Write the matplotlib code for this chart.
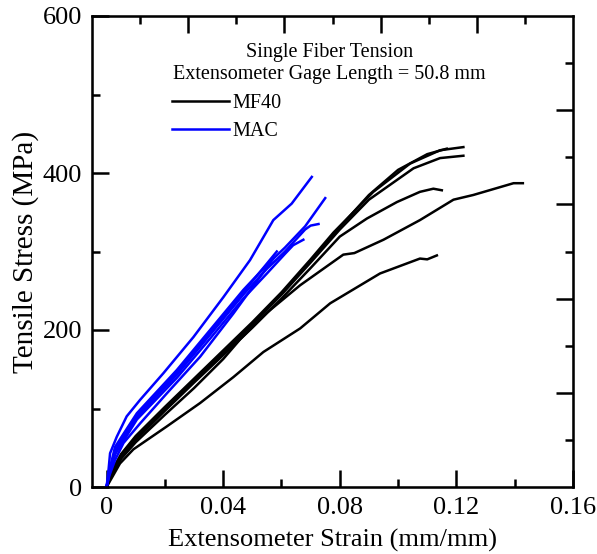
import matplotlib
matplotlib.use("Agg")
import matplotlib.pyplot as plt

plt.rcParams['font.family'] = ['Liberation Serif', 'DejaVu Serif']

# MF40 curves (strain, stress)
mf40_a_x = [0, 0.002, 0.005, 0.01, 0.02, 0.03, 0.04, 0.05, 0.06, 0.07, 0.0778, 0.0915, 0.1041, 0.1144, 0.1224]
mf40_a_y = [0, 22, 42, 65, 102, 138, 174, 210, 248, 290, 324, 376, 412, 429, 433]
mf40_b_x = [0, 0.002, 0.005, 0.01, 0.02, 0.03, 0.04, 0.05, 0.06, 0.07, 0.08, 0.09, 0.1053, 0.1144, 0.1224]
mf40_b_y = [0, 20, 40, 62, 99, 135, 171, 207, 245, 286, 328, 366, 406, 419, 422]
mf40_c_x = [0, 0.002, 0.005, 0.01, 0.02, 0.03, 0.04, 0.05, 0.06, 0.07, 0.08, 0.09, 0.1, 0.11, 0.1167]
mf40_c_y = [0, 21, 41, 63, 100, 136, 172, 208, 246, 288, 331, 372, 404, 424, 431]
mf40_d_x = [0, 0.002, 0.005, 0.01, 0.02, 0.03, 0.04, 0.05, 0.06, 0.07, 0.08, 0.0893, 0.0996, 0.1075, 0.1121, 0.115]
mf40_d_y = [0, 19, 39, 60, 97, 133, 168, 203, 240, 279, 319, 342, 363, 376, 380, 378]
mf40_e_x = [0, 0.002, 0.005, 0.01, 0.02, 0.03, 0.04, 0.0458, 0.055, 0.0664, 0.0812, 0.085, 0.095, 0.1075, 0.119, 0.1258, 0.1396, 0.1428]
mf40_e_y = [0, 16, 36, 57, 92, 126, 163, 188, 222, 257, 296, 298, 315, 340, 366, 372, 387, 387]
mf40_f_x = [0, 0.002, 0.0046, 0.0092, 0.0206, 0.0321, 0.0435, 0.0538, 0.0664, 0.0767, 0.0938, 0.1075, 0.11, 0.1133]
mf40_f_y = [0, 13, 30, 48, 77, 107, 140, 172, 202, 234, 272, 291, 290, 295]

# MAC curves
mac_a_x = [0, 0.0007, 0.0012, 0.0035, 0.0069, 0.0115, 0.0195, 0.0298, 0.0401, 0.0492, 0.0572, 0.0635, 0.0704]
mac_a_y = [0, 23, 43, 64, 90, 111, 145, 191, 242, 289, 340, 361, 395]
mac_b_x = [0, 0.001, 0.0029, 0.0104, 0.0241, 0.0355, 0.0469, 0.055, 0.0612, 0.0681, 0.075]
mac_b_y = [0, 22, 51, 94, 149, 200, 251, 283, 305, 332, 368]
mac_c_x = [0, 0.001, 0.003, 0.0104, 0.0241, 0.0355, 0.0469, 0.055, 0.0612, 0.0681, 0.07, 0.0727]
mac_c_y = [0, 19, 45, 89, 143, 194, 245, 278, 300, 328, 333, 335]
mac_d_x = [0, 0.001, 0.003, 0.0104, 0.0241, 0.0355, 0.0469, 0.055, 0.0612, 0.064, 0.0675]
mac_d_y = [0, 18, 42, 86, 139, 189, 240, 272, 297, 308, 315]
mac_e_x = [0, 0.001, 0.003, 0.0104, 0.0241, 0.0355, 0.0469, 0.0584]
mac_e_y = [0, 20, 47, 91, 146, 197, 248, 300]
mac_f_x = [0, 0.001, 0.003, 0.0058, 0.0115, 0.0206, 0.0321, 0.0435, 0.0527, 0.0572]
mac_f_y = [0, 15, 35, 56, 81, 119, 166, 221, 268, 291]

mf40 = [(mf40_a_x, mf40_a_y), (mf40_b_x, mf40_b_y), (mf40_c_x, mf40_c_y),
        (mf40_d_x, mf40_d_y), (mf40_e_x, mf40_e_y), (mf40_f_x, mf40_f_y)]
mac = [(mac_a_x, mac_a_y), (mac_b_x, mac_b_y), (mac_c_x, mac_c_y),
       (mac_d_x, mac_d_y), (mac_e_x, mac_e_y), (mac_f_x, mac_f_y)]

fig = plt.figure(figsize=(5.97, 5.54), dpi=100)
ax = fig.add_axes([92/597, 67/554, 481/597, 471/554])

for i, (x, y) in enumerate(mf40):
    ax.plot(x, y, color='black', lw=1.8, label='MF40' if i == 0 else None)
for i, (x, y) in enumerate(mac):
    ax.plot(x, y, color='#0000ff', lw=1.8, label='MAC' if i == 0 else None)

ax.set_xlim(-0.005, 0.16)
ax.set_ylim(0, 600)
ax.set_xticks([0, 0.04, 0.08, 0.12, 0.16])
ax.set_xticklabels(['0', '0.04', '0.08', '0.12', '0.16'])
ax.set_xticks([0.02, 0.06, 0.10, 0.14], minor=True)
ax.set_yticks([0, 200, 400, 600])
ax.set_yticks([100, 300, 500], minor=True)
ax.tick_params(which='both', direction='in', width=1.8, labelsize=19, pad=7)
ax.tick_params(which='major', length=12)
ax.tick_params(which='minor', length=6)
for s in ax.spines.values():
    s.set_linewidth(1.8)

ax.set_xlabel('Extensometer Strain (mm/mm)', fontsize=19, labelpad=7)
ax.set_ylabel('Tensile Stress (MPa)', fontsize=21, labelpad=3)

# top and right axes have their own even tick spacing
axt = ax.twiny()
axt.set_xlim(0, 10)
axt.set_xticks([2, 4, 6, 8])
axt.set_xticks([1, 3, 5, 7, 9], minor=True)
axt.tick_params(which='both', direction='in', width=1.8, labeltop=False)
axt.tick_params(which='major', length=12)
axt.tick_params(which='minor', length=6)
axr = ax.twinx()
axr.set_ylim(0, 10)
axr.set_yticks([2, 4, 6, 8])
axr.set_yticks([1, 3, 5, 7, 9], minor=True)
axr.tick_params(which='both', direction='in', width=1.8, labelright=False)
axr.tick_params(which='major', length=12)
axr.tick_params(which='minor', length=6)

ax.text(0.0765, 553, 'Single Fiber Tension', ha='center', va='center', fontsize=14.5)
ax.text(0.0765, 525, 'Extensometer Gage Length = 50.8 mm', ha='center', va='center', fontsize=14.5)
ax.legend(loc='upper left', bbox_to_anchor=(0.15, 0.852), frameon=False, fontsize=14.5,
          handlelength=2.8, handletextpad=0.2, labelspacing=0.45, borderaxespad=0)

fig.savefig('out.png', dpi=100)
